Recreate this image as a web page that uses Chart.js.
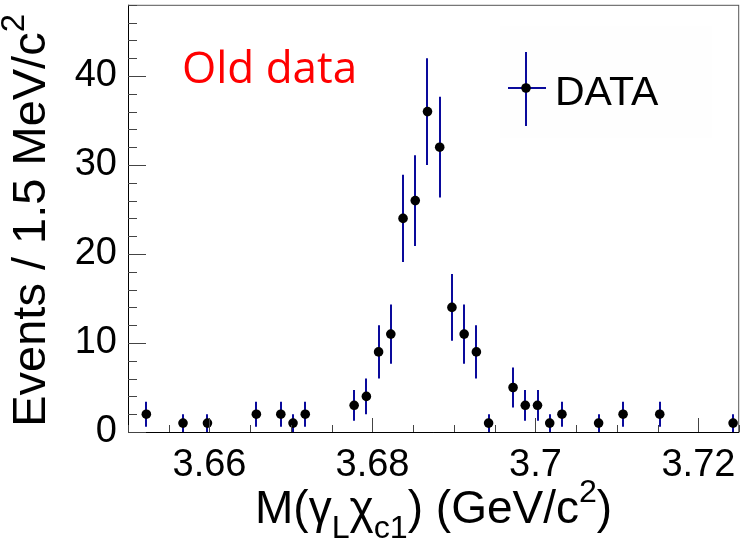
<!DOCTYPE html>
<html>
<head>
<meta charset="utf-8">
<script src="https://cdn.jsdelivr.net/npm/chart.js@4/dist/chart.umd.min.js"></script>
<style>
html, body { margin: 0; padding: 0; background: #fff; }
#wrap { width: 744px; height: 543px; }
</style>
</head>
<body>
<div id="wrap"><canvas id="massChart" width="744" height="543"></canvas></div>
<script>
// ===============================
// M(gamma_L chi_c1) spectrum - old data
// ===============================

// bin centres (GeV/c^2), 1.5 MeV bins from 3.650 to 3.725, empty bins left out
const binCenters = [
    3.65225, 3.65675, 3.65975, 3.66575, 3.66875, 3.67025, 3.67175,
    3.67775, 3.67925, 3.68075, 3.68225, 3.68375, 3.68525, 3.68675,
    3.68825, 3.68975, 3.69125, 3.69275, 3.69425, 3.69725, 3.69875,
    3.70025, 3.70175, 3.70325, 3.70775, 3.71075, 3.71525, 3.72425
];

const counts = [
    2, 1, 1, 2, 2, 1, 2,
    3, 4, 9, 11, 24, 26, 36,
    32, 14, 11, 9, 1, 5, 3,
    3, 1, 2, 1, 2, 2, 1
];

// error bar half lengths
const errors = [
    1.41, 1, 1, 1.41, 1.41, 1, 1.41,
    1.73, 2, 3, 3.32, 4.9, 5.1, 6,
    5.66, 3.74, 3.32, 3, 1, 2.24, 1.73,
    1.73, 1, 1.41, 1, 1.41, 1.41, 1
];

const xMajorTicks = [3.66, 3.68, 3.70, 3.72];
const xTickLabels = ["3.66", "3.68", "3.7", "3.72"];
const yMajorTicks = [0, 10, 20, 30, 40];
const yTickLabels = ["0", "10", "20", "30", "40"];

const xMin = 3.65, xMax = 3.725, xMinorStep = 0.005;
const yMin = 0, yMax = 48, yMinorStep = 2;

const legendLabel = "DATA";
const noteText = "Old data";

const AXIS_FONT = "'Liberation Sans', Arial, sans-serif";
const BAR_COLOR = "#0a0a9c";

function drawRich(ctx, parts, size, x, y, measureOnly) {
    let w = 0;
    parts.forEach(p => {
        let fs = size, dy = 0;
        if (p.mode === "sub") { fs = size * 0.7; dy = size * 0.32; }
        if (p.mode === "sup") { fs = size * 0.7; dy = -size * 0.45; }
        ctx.font = fs + "px " + AXIS_FONT;
        if (!measureOnly) ctx.fillText(p.t, x + w, y + dy);
        w += ctx.measureText(p.t).width;
    });
    return w;
}

const errorBars = {
    id: "errorBars",
    beforeDatasetsDraw(chart) {
        const ctx = chart.ctx;
        const xs = chart.scales.x, ys = chart.scales.y;
        const area = chart.chartArea;
        ctx.save();
        ctx.strokeStyle = BAR_COLOR;
        ctx.lineWidth = 2;
        binCenters.forEach((b, i) => {
            const px = Math.round(xs.getPixelForValue(b));
            const y1 = Math.min(ys.getPixelForValue(counts[i] - errors[i]), area.bottom);
            const y2 = ys.getPixelForValue(counts[i] + errors[i]);
            ctx.beginPath();
            ctx.moveTo(px, y1);
            ctx.lineTo(px, y2);
            ctx.stroke();
        });
        ctx.restore();
    }
};

const frameAndText = {
    id: "frameAndText",
    afterDraw(chart) {
        const ctx = chart.ctx;
        const a = chart.chartArea;
        const xs = chart.scales.x, ys = chart.scales.y;
        ctx.save();

        // frame
        ctx.lineWidth = 1;
        ctx.strokeStyle = "#555";
        ctx.strokeRect(a.left + 0.5, a.top + 0.5, a.right - a.left - 1, a.bottom - a.top);
        ctx.strokeStyle = "#000";
        ctx.beginPath();
        ctx.moveTo(a.left + 0.5, a.top);
        ctx.lineTo(a.left + 0.5, a.bottom + 0.5);
        ctx.lineTo(a.right, a.bottom + 0.5);
        ctx.stroke();

        // ticks inside the frame
        ctx.strokeStyle = "#444";
        ctx.beginPath();
        for (let v = xMin; v <= xMax + 1e-9; v += xMinorStep) {
            const px = Math.round(xs.getPixelForValue(v)) + 0.5;
            const major = xMajorTicks.some(t => Math.abs(t - v) < 1e-6);
            ctx.moveTo(px, a.bottom);
            ctx.lineTo(px, a.bottom - (major ? 14 : 7));
        }
        for (let v = yMin; v <= yMax + 1e-9; v += yMinorStep) {
            const py = Math.round(ys.getPixelForValue(v)) + 0.5;
            const major = yMajorTicks.includes(v);
            ctx.moveTo(a.left, py);
            ctx.lineTo(a.left + (major ? 18 : 9), py);
        }
        ctx.stroke();

        ctx.fillStyle = "#000";
        ctx.textBaseline = "alphabetic";
        ctx.textAlign = "left";

        // x title
        const xParts = [
            { t: "M(" }, { t: "\u03b3" }, { t: "L", mode: "sub" }, { t: "\u03c7" },
            { t: "c1", mode: "sub" }, { t: ") (GeV/c" }, { t: "2", mode: "sup" }, { t: ")" }
        ];
        const xSize = 46;
        const xw = drawRich(ctx, xParts, xSize, 0, 0, true);
        drawRich(ctx, xParts, xSize, (a.left + a.right) / 2 - xw / 2, 523, false);

        // y title
        const yParts = [{ t: "Events / 1.5 MeV/c" }, { t: "2", mode: "sup" }];
        const ySize = 47;
        const yw = drawRich(ctx, yParts, ySize, 0, 0, true);
        ctx.save();
        ctx.translate(45, (a.top + a.bottom) / 2 + 2);
        ctx.rotate(-Math.PI / 2);
        drawRich(ctx, yParts, ySize, -yw / 2, 0, false);
        ctx.restore();

        // legend
        ctx.fillStyle = "#fefefe";
        ctx.fillRect(500, 26, 212, 112);
        ctx.strokeStyle = BAR_COLOR;
        ctx.lineWidth = 2;
        ctx.beginPath();
        ctx.moveTo(526, 52); ctx.lineTo(526, 126);
        ctx.moveTo(508, 88); ctx.lineTo(546, 88);
        ctx.stroke();
        ctx.fillStyle = "#000";
        ctx.beginPath();
        ctx.arc(526, 88, 4.8, 0, Math.PI * 2);
        ctx.fill();
        ctx.font = "41px " + AXIS_FONT;
        ctx.fillText(legendLabel, 555, 105);

        // note
        ctx.fillStyle = "#ff0000";
        ctx.font = "44px 'Open Sans', sans-serif";
        ctx.fillText(noteText, 182, 83);

        ctx.restore();
    }
};

const ctx = document.getElementById("massChart").getContext("2d");

new Chart(ctx, {
    type: "scatter",
    data: {
        datasets: [{
            label: legendLabel,
            data: binCenters.map((b, i) => ({ x: b, y: counts[i] })),
            pointRadius: 4.8,
            pointBackgroundColor: "#000",
            pointBorderWidth: 0,
            showLine: false
        }]
    },
    options: {
        responsive: false,
        animation: false,
        devicePixelRatio: 1,
        layout: { padding: { top: 1, right: 2, left: 0, bottom: 0 } },
        plugins: { legend: { display: false }, tooltip: { enabled: false } },
        scales: {
            x: {
                type: "linear",
                min: xMin,
                max: xMax,
                grid: { display: false, drawTicks: false },
                border: { display: false },
                afterBuildTicks: s => { s.ticks = xMajorTicks.map(v => ({ value: v })); },
                afterFit: s => {
                    s.height = 111;
                    s.paddingLeft = 0;
                    s.paddingRight = 0;
                },
                ticks: {
                    font: { family: AXIS_FONT, size: 38 },
                    color: "#000",
                    padding: 11,
                    maxRotation: 0,
                    autoSkip: false,
                    callback: (v, i) => xTickLabels[i]
                }
            },
            y: {
                min: yMin,
                max: yMax,
                grid: { display: false, drawTicks: false },
                border: { display: false },
                afterBuildTicks: s => { s.ticks = yMajorTicks.map(v => ({ value: v })); },
                afterFit: s => {
                    s.width = 128;
                    s.paddingTop = 0;
                    s.paddingBottom = 0;
                },
                ticks: {
                    font: { family: AXIS_FONT, size: 38 },
                    color: "#000",
                    padding: 11,
                    callback: (v, i) => yTickLabels[i]
                }
            }
        }
    },
    plugins: [errorBars, frameAndText]
});
</script>
</body>
</html>
